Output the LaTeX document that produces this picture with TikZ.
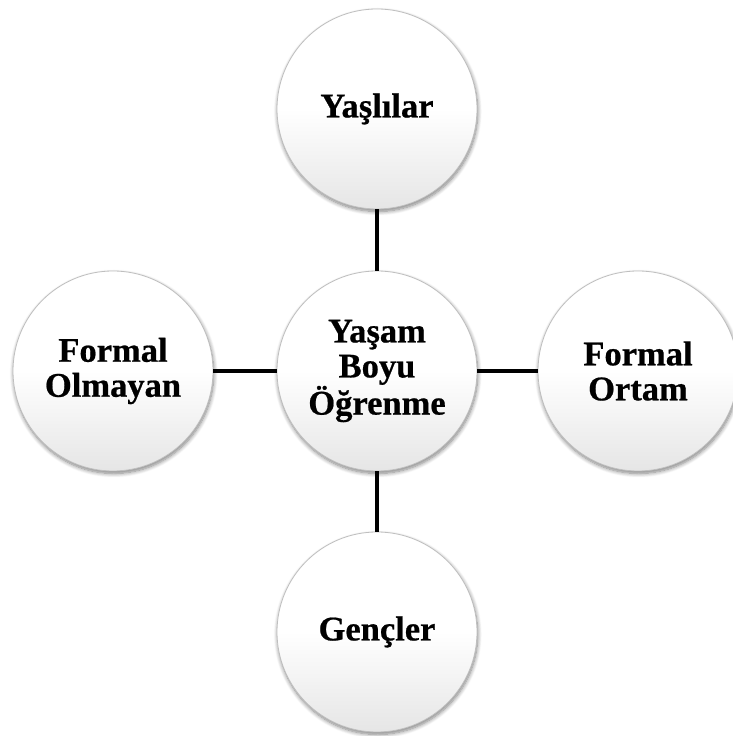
\documentclass[tikz,border=0pt]{standalone}
\usepackage{fontspec}
\setmainfont{Liberation Serif}[BoldFeatures={FakeBold=0.6}]
\usetikzlibrary{shadows.blur}
\begin{document}
\begin{tikzpicture}[x=1pt,y=1pt,
  ball/.style={circle, minimum size=200pt, inner sep=0pt, align=center,
    top color=white, bottom color=gray!20, middle color=white,
    draw=gray!50, line width=0.8pt,
    blur shadow={shadow xshift=0.8pt, shadow yshift=-2.5pt, shadow blur steps=8, shadow blur radius=4pt, shadow opacity=50},
    font=\fontsize{34.5}{35}\selectfont\bfseries},
  link/.style={line width=4.5pt, black}]
\useasboundingbox (0,0) rectangle (732,736);
\node[ball] (c) at (377,365) {Yaşam\\Boyu\\Öğrenme};
\node[ball] (t) at (377,627) {Yaşlılar};
\node[ball] (l) at (113,365) {Formal\\Olmayan};
\node[ball] (r) at (638,365) {Formal\\Ortam};
\node[ball] (b) at (377,104) {Gençler};
\draw[link] (t) -- (c);
\draw[link] (c) -- (b);
\draw[link] (l) -- (c);
\draw[link] (c) -- (r);
\end{tikzpicture}
\end{document}
